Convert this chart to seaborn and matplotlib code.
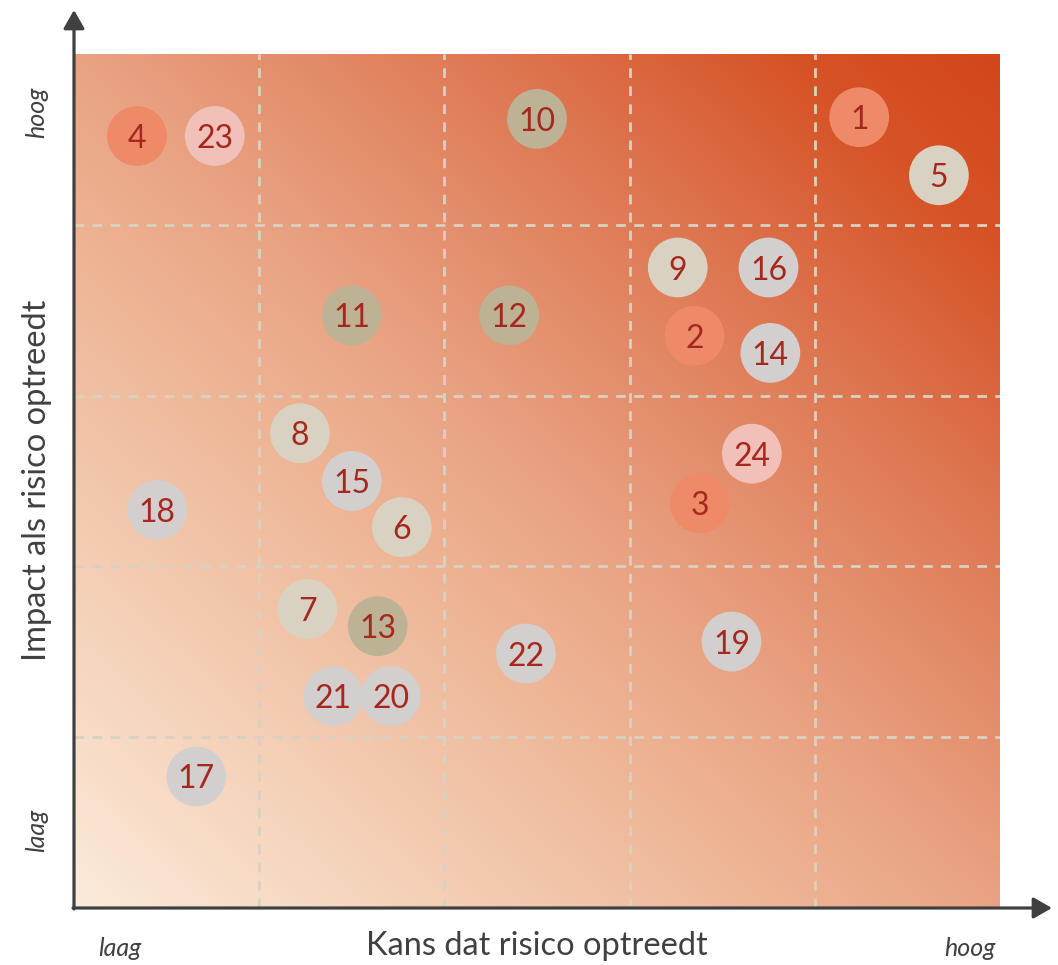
import numpy as np
import pandas as pd
import matplotlib
matplotlib.use("Agg")
import matplotlib.pyplot as plt
from matplotlib.colors import LinearSegmentedColormap
from matplotlib.patches import FancyArrowPatch
import seaborn as sns

# ---- data ----
risk_ids = [str(i) for i in range(1, 25)]
kans = [4.24, 3.35, 3.38, 0.34, 4.67, 1.77, 1.26, 1.22, 3.26, 2.50, 1.50, 2.35,
        1.64, 3.76, 1.50, 3.75, 0.66, 0.45, 3.55, 1.71, 1.40, 2.44, 0.76, 3.66]
impact = [4.63, 3.35, 2.37, 4.52, 4.29, 2.23, 1.75, 2.78, 3.75, 4.62, 3.47, 3.47,
          1.65, 3.25, 2.50, 3.75, 0.77, 2.33, 1.56, 1.24, 1.24, 1.49, 4.52, 2.66]
groups = ["A", "A", "A", "A", "D", "D", "D", "D", "D", "C", "C", "C",
          "C", "E", "E", "E", "E", "E", "E", "E", "E", "E", "B", "B"]
group_colors = {"A": "#EF8A69", "B": "#F1C0B8", "C": "#BDB294",
                "D": "#D9D2C3", "E": "#D3CFCF"}
x_labels = ["laag", "hoog"]
y_labels = ["laag", "hoog"]
x_title = "Kans dat risico optreedt"
y_title = "Impact als risico optreedt"

df = pd.DataFrame({"id": risk_ids, "kans": kans, "impact": impact, "groep": groups})

W, H = 1058, 965
fig = plt.figure(figsize=(W / 100, H / 100), dpi=100)
fig.patch.set_facecolor("white")
L, R, T, B = 74, 1000, 54, 908
ax = fig.add_axes([L / W, 1 - B / H, (R - L) / W, (B - T) / H])

# gradient background
cmap = LinearSegmentedColormap.from_list(
    "bg", [(0.0, "#FBEBDA"), (0.35, "#EFBA9B"), (0.5, "#E9A383"),
           (0.72, "#DE7853"), (0.88, "#D65428"), (1.0, "#D3461A")])
n = 400
gx, gy = np.meshgrid(np.linspace(0, 1, n), np.linspace(0, 1, n))
grad = (gx + gy) / 2
ax.imshow(grad, cmap=cmap, extent=(0, 5, 0, 5), origin="lower",
          aspect="auto", interpolation="bilinear", zorder=0)

for v in [1, 2, 3, 4]:
    ax.axvline(v, color="#D9D1C2", lw=2.0, ls=(0, (3.5, 3)), zorder=1)
    ax.axhline(v, color="#D9D1C2", lw=2.0, ls=(0, (3.5, 3)), zorder=1)

sns.scatterplot(data=df, x="kans", y="impact", hue="groep", palette=group_colors,
                s=1850, linewidth=0, alpha=1, legend=False, ax=ax, zorder=3)

for _, r in df.iterrows():
    ax.text(r["kans"], r["impact"], r["id"], ha="center", va="center_baseline",
            fontsize=23, color="#A5281E", family="Lato", zorder=4)

ax.set_xlim(0, 5)
ax.set_ylim(0, 5)
ax.set_xlabel("")
ax.set_ylabel("")
ax.set_xticks([])
ax.set_yticks([])
for s in ax.spines.values():
    s.set_visible(False)

# axis arrows
def fp(x, y):
    return (x / W, 1 - y / H)

for start, end in [((74, 909), (74, 10)), ((73, 908), (1052, 908))]:
    arr = FancyArrowPatch(fp(*start), fp(*end), transform=fig.transFigure,
                          arrowstyle="-|>,head_length=7,head_width=4",
                          color="#404040", lw=2.3, mutation_scale=1.6,
                          shrinkA=0, shrinkB=0)
    fig.add_artist(arr)

txt = dict(color="#404040", family="Lato")
fig.text(*fp(537, 946), x_title, ha="center", va="center", fontsize=23.5, **txt)
fig.text(*fp(37, 480), y_title, ha="center", va="center", fontsize=23.5,
         rotation=90, **txt)
fig.text(*fp(120, 948), x_labels[0], ha="center", va="center", fontsize=18,
         style="italic", **txt)
fig.text(*fp(970, 948), x_labels[1], ha="center", va="center", fontsize=18,
         style="italic", **txt)
fig.text(*fp(37, 830), y_labels[0], ha="center", va="center", fontsize=18,
         style="italic", rotation=90, **txt)
fig.text(*fp(37, 112), y_labels[1], ha="center", va="center", fontsize=18,
         style="italic", rotation=90, **txt)

fig.savefig("out.png", dpi=100)
